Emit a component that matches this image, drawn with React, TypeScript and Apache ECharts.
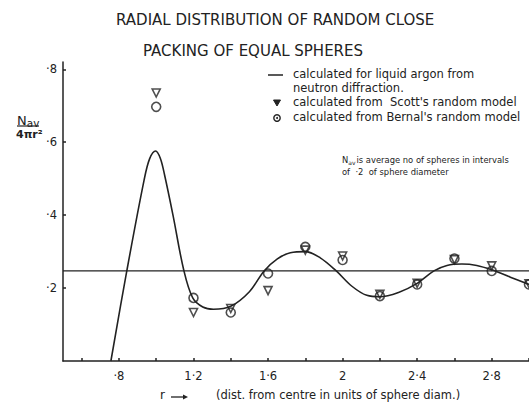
import React, { useEffect, useRef } from "react";
import * as echarts from "echarts";

// Liquid argon curve
const curveX = [0.757, 0.843, 0.935, 0.965, 0.997, 1.022, 1.045, 1.09, 1.148, 1.196, 1.25, 1.307, 1.40, 1.50, 1.579, 1.65, 1.72, 1.80, 1.88, 1.966, 2.05, 2.13, 2.20, 2.30, 2.40, 2.49, 2.56, 2.64, 2.72, 2.80, 2.90, 3.00];
const curveY = [0.0, 0.249, 0.496, 0.555, 0.576, 0.556, 0.51, 0.40, 0.249, 0.173, 0.148, 0.142, 0.15, 0.19, 0.247, 0.28, 0.297, 0.30, 0.283, 0.247, 0.205, 0.18, 0.176, 0.188, 0.213, 0.247, 0.262, 0.266, 0.262, 0.25, 0.23, 0.21];

// Model points
const markerX = [1.0, 1.2, 1.4, 1.6, 1.8, 2.0, 2.2, 2.4, 2.6, 2.8, 3.0];
const scottY = [0.735, 0.133, 0.144, 0.193, 0.304, 0.288, 0.183, 0.213, 0.278, 0.261, 0.212];
const bernalY = [0.697, 0.173, 0.133, 0.24, 0.313, 0.277, 0.178, 0.21, 0.281, 0.247, 0.21];

const avgLevel = 0.247;
const xRange = [0.5, 3.0];
const yRange = [0, 0.82];
const xTickValues = [0.6, 0.8, 1.0, 1.2, 1.4, 1.6, 1.8, 2.0, 2.2, 2.4, 2.6, 2.8, 3.0];
const xLabelValues = [0.8, 1.2, 1.6, 2.0, 2.4, 2.8];
const yLabelValues = [0.2, 0.4, 0.6, 0.8];

const titleLines = ["RADIAL DISTRIBUTION OF RANDOM CLOSE", "PACKING OF EQUAL SPHERES"];
const legendLines = [
  "calculated for liquid argon from",
  "neutron diffraction.",
  "calculated from  Scott's random model",
  "calculated from Bernal's random model",
];
const noteLines = ["is average no of spheres in intervals", "of  ·2  of sphere diameter"];
const xAxisName = "(dist. from centre in units of sphere diam.)";

const INK = "#222";
const FONT = "'DejaVu Sans', sans-serif";

const fmt = (v: number) => {
  const s = String(Math.round(v * 10) / 10);
  return s.replace(/^0\./, "·").replace(".", "·");
};

export default function App() {
  const ref = useRef<HTMLDivElement>(null);
  useEffect(() => {
    if (!ref.current) return;
    const chart = echarts.init(ref.current, null, { renderer: "svg" });
    const curve = curveX.map((x, i) => [x, curveY[i]]);
    const scott = markerX.map((x, i) => [x, scottY[i]]);
    const bernal = markerX.map((x, i) => [x, bernalY[i]]);
    chart.setOption({
      animation: false,
      backgroundColor: "#fff",
      textStyle: { fontFamily: FONT, color: INK },
      grid: { left: 63, top: 62, width: 467.5, height: 299, containLabel: false },
      xAxis: {
        type: "value",
        min: xRange[0],
        max: xRange[1],
        axisLine: { show: true, lineStyle: { color: INK, width: 1.5 } },
        axisTick: { show: true, inside: true, length: 3, customValues: xTickValues, lineStyle: { color: INK, width: 1.5 } },
        axisLabel: { show: true, customValues: xLabelValues, formatter: fmt, color: INK, fontSize: 11.5, margin: 9, fontFamily: FONT },
        splitLine: { show: false },
      },
      yAxis: {
        type: "value",
        min: yRange[0],
        max: yRange[1],
        axisLine: { show: true, lineStyle: { color: INK, width: 1.5 } },
        axisTick: { show: true, inside: true, length: 3, customValues: yLabelValues, lineStyle: { color: INK, width: 1.5 } },
        axisLabel: { show: true, customValues: yLabelValues, formatter: fmt, color: INK, fontSize: 11.5, margin: 6, fontFamily: FONT },
        splitLine: { show: false },
      },
      series: [
        {
          type: "line",
          data: [[xRange[0], avgLevel], [xRange[1], avgLevel]],
          symbol: "none",
          lineStyle: { color: INK, width: 1.2 },
          z: 1,
        },
        {
          type: "line",
          data: curve,
          smooth: 0.35,
          symbol: "none",
          lineStyle: { color: INK, width: 1.6 },
          z: 2,
        },
        {
          type: "scatter",
          data: scott,
          symbol: "triangle",
          symbolRotate: 180,
          symbolSize: 8,
          itemStyle: { color: "rgba(255,255,255,0)", borderColor: INK, borderWidth: 1.6 },
          z: 3,
        },
        {
          type: "scatter",
          data: bernal,
          symbol: "circle",
          symbolSize: 9,
          itemStyle: { color: "rgba(255,255,255,0)", borderColor: INK, borderWidth: 1.6 },
          z: 4,
        },
      ],
      graphic: [
        { type: "text", x: 116, y: 12, style: { text: titleLines[0], font: `15px ${FONT}`, fill: INK } },
        { type: "text", x: 143, y: 43, style: { text: titleLines[1], font: `15px ${FONT}`, fill: INK } },
        { type: "line", shape: { x1: 268, y1: 75, x2: 283, y2: 75 }, style: { stroke: INK, lineWidth: 1.5 } },
        { type: "text", x: 293, y: 68, style: { text: legendLines[0], font: `11.5px ${FONT}`, fill: INK } },
        { type: "text", x: 293, y: 82, style: { text: legendLines[1], font: `11.5px ${FONT}`, fill: INK } },
        { type: "polygon", shape: { points: [[273.5, 100], [280.5, 100], [277, 106]] }, style: { fill: INK, stroke: INK, lineWidth: 1 } },
        { type: "text", x: 293, y: 96, style: { text: legendLines[2], font: `11.5px ${FONT}`, fill: INK } },
        { type: "circle", shape: { cx: 277, cy: 118, r: 3.2 }, style: { fill: "none", stroke: INK, lineWidth: 1.4 } },
        { type: "circle", shape: { cx: 277, cy: 118, r: 1 }, style: { fill: INK } },
        { type: "text", x: 293, y: 111, style: { text: legendLines[3], font: `11.5px ${FONT}`, fill: INK } },
        {
          type: "text", x: 342, y: 155,
          style: {
            text: "{n|N}{s|av}{t|" + noteLines[0] + "}",
            fill: INK,
            rich: {
              n: { fontSize: 8.4, fontFamily: FONT, fill: INK },
              s: { fontSize: 6, fontFamily: FONT, fill: INK, padding: [4, 1, 0, 0] },
              t: { fontSize: 8.4, fontFamily: FONT, fill: INK },
            },
          },
        },
        { type: "text", x: 342, y: 168, style: { text: noteLines[1], font: `8.4px ${FONT}`, fill: INK } },
        {
          type: "text", x: 17, y: 112,
          style: {
            text: "{n|N}{s|av}",
            rich: { n: { fontSize: 13, fontFamily: FONT, fill: INK }, s: { fontSize: 10.5, fontFamily: FONT, fill: INK, padding: [5, 0, 0, 0] } },
          },
        },
        { type: "line", shape: { x1: 17, y1: 126, x2: 39, y2: 126 }, style: { stroke: INK, lineWidth: 1.2 } },
        { type: "text", x: 16, y: 129, style: { text: "4πr²", font: `bold 11px ${FONT}`, fill: INK } },
        { type: "text", x: 160, y: 389, style: { text: "r", font: `12px ${FONT}`, fill: INK } },
        { type: "line", shape: { x1: 171, y1: 397, x2: 185, y2: 397 }, style: { stroke: INK, lineWidth: 1.3 } },
        { type: "polygon", shape: { points: [[183, 394.5], [188, 397], [183, 399.5]] }, style: { fill: INK } },
        { type: "text", x: 216, y: 389, style: { text: xAxisName, font: `11.5px ${FONT}`, fill: INK } },
      ],
    });
    return () => chart.dispose();
  }, []);
  return <div ref={ref} style={{ position: "fixed", left: 0, top: 0, width: 529, height: 403, background: "#fff" }} />;
}
